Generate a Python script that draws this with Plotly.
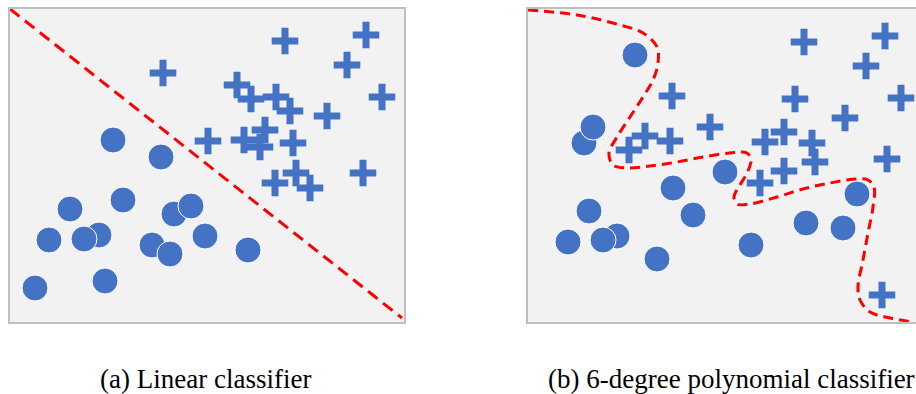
import plotly.graph_objects as go

# ---- Panel (a): linear classifier (panel-local units, 1 unit ~ 1 px) ----
a_circle_x = [103, 151, 113, 60, 89, 74, 39, 164, 181, 195, 142, 160, 238, 25, 95]
a_circle_y = [182, 165, 122, 113, 87, 83, 82, 108, 116, 86, 77, 68, 72, 34, 41]
a_plus_x = [275, 356, 337, 153, 227, 241, 266, 280, 317, 372, 198, 234, 255, 250, 283, 353, 286, 265, 300]
a_plus_y = [281, 287, 257, 249, 237, 223, 225, 211, 206, 225, 181, 182, 192, 175, 179, 149, 149, 139, 134]
a_line_x = [0, 392]
a_line_y = [313, 4]

# ---- Panel (b): 6-degree polynomial classifier ----
b_circle_x = [107, 56, 65, 197, 145, 61, 165, 89, 75, 40, 129, 223, 278, 315, 329]
b_circle_y = [267, 179, 195, 150, 134, 111, 107, 86, 82, 80, 63, 77, 99, 94, 128]
b_plus_x = [276, 357, 338, 373, 267, 144, 317, 182, 117, 101, 142, 237, 256, 284, 287, 256, 232, 359, 354]
b_plus_y = [280, 286, 256, 224, 223, 226, 204, 195, 186, 172, 181, 180, 190, 179, 160, 151, 139, 163, 27]
b_curve_x = [0, 49, 92, 115, 129, 130, 125, 115, 102, 89, 81, 85, 99, 122, 149, 175, 202, 219, 223,
             219, 212, 206, 209, 222, 249, 275, 302, 329, 340, 346, 345, 340, 335, 330, 332, 342, 362, 385]
b_curve_y = [312, 307, 297, 289, 275, 259, 242, 225, 205, 185, 169, 157, 154, 156, 160, 165, 169, 169, 162,
             149, 137, 125, 118, 118, 125, 133, 139, 143, 142, 135, 115, 89, 62, 35, 22, 10, 4, 0]

captions = ["(a) Linear classifier", "(b) 6-degree polynomial classifier"]

BLUE = "#4472C4"
W, H = 916, 394

fig = go.Figure()

def add_panel(xa, ya, cx, cy, px, py, lx, ly, dash, smooth):
    fig.add_trace(go.Scatter(
        x=cx, y=cy, xaxis=xa, yaxis=ya, mode="markers",
        marker=dict(symbol="circle", size=26, color=BLUE, line=dict(color="white", width=1)),
        hoverinfo="skip", showlegend=False))
    fig.add_trace(go.Scatter(
        x=px, y=py, xaxis=xa, yaxis=ya, mode="markers",
        marker=dict(symbol="cross-thin", size=19, color=BLUE, line=dict(color=BLUE, width=7)),
        hoverinfo="skip", showlegend=False))
    fig.add_trace(go.Scatter(
        x=lx, y=ly, xaxis=xa, yaxis=ya, mode="lines",
        line=dict(color="#FF0000", width=3, dash=dash,
                  shape="spline" if smooth else "linear", smoothing=1.0),
        hoverinfo="skip", showlegend=False))

add_panel("x", "y", a_circle_x, a_circle_y, a_plus_x, a_plus_y, a_line_x, a_line_y, "12px,7px", False)
add_panel("x2", "y2", b_circle_x, b_circle_y, b_plus_x, b_plus_y, b_curve_x, b_curve_y, "10px,6px", True)

y_dom = [(H - 322) / H, (H - 9) / H]
axis_common = dict(showgrid=False, zeroline=False, showticklabels=False, ticks="",
                   linecolor="#bfbfbf", linewidth=2, showline=True, fixedrange=True)

cap_font = dict(family="Liberation Serif", size=27, color="black")
fig.update_layout(
    width=W, height=H,
    margin=dict(l=0, r=0, t=0, b=0),
    paper_bgcolor="white", plot_bgcolor="#f2f2f2",
    hovermode=False,
    xaxis=dict(domain=[10 / W, 404 / W], range=[0, 394], mirror=True, **axis_common),
    yaxis=dict(domain=y_dom, range=[0, 313], mirror=True, **axis_common),
    xaxis2=dict(domain=[528 / W, 1.0], range=[0, 388], mirror=True, anchor="y2", **axis_common),
    yaxis2=dict(domain=y_dom, range=[0, 313], mirror=False, anchor="x2", **axis_common),
    annotations=[
        dict(text=captions[0], x=205 / W, y=(H - 379) / H, xref="paper", yref="paper",
             showarrow=False, xanchor="center", yanchor="middle", font=cap_font),
        dict(text=captions[1], x=731 / W, y=(H - 379) / H, xref="paper", yref="paper",
             showarrow=False, xanchor="center", yanchor="middle", font=cap_font),
    ],
)

fig.write_html("out.html", config={"displayModeBar": False, "staticPlot": True})

# remove the browser's default 8px body margin so the figure sits at the page origin
with open("out.html", "r", encoding="utf-8") as f:
    html = f.read()
html = html.replace("<head>", "<head><style>html,body{margin:0;padding:0;overflow:hidden;}</style>", 1)
with open("out.html", "w", encoding="utf-8") as f:
    f.write(html)
